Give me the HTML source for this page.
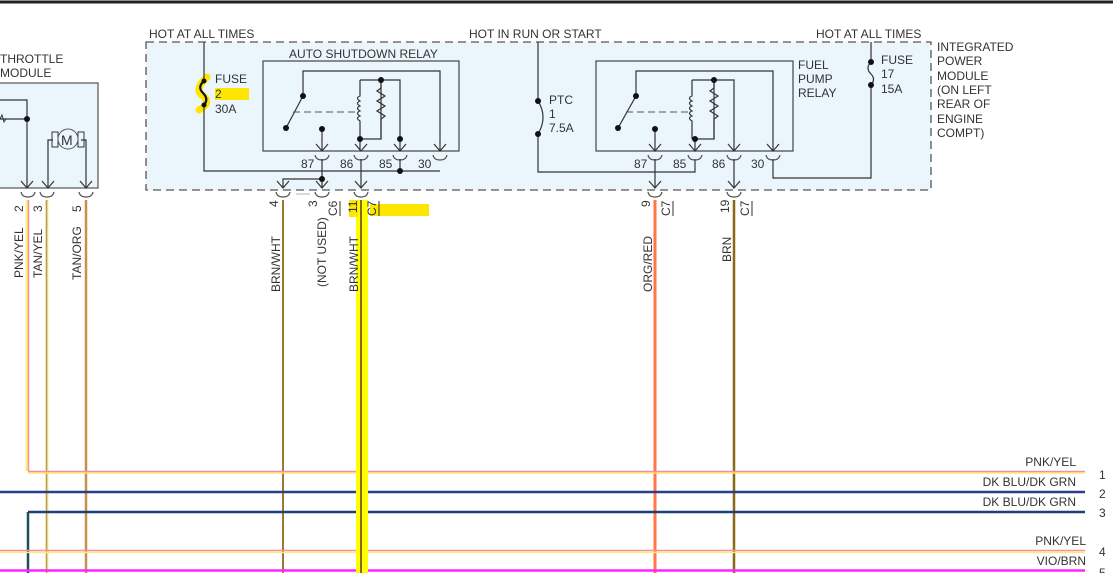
<!DOCTYPE html>
<html><head><meta charset="utf-8"><style>
html,body{margin:0;padding:0;background:#fff;}
svg{display:block;}
text{font-family:"Liberation Sans",Arial,sans-serif;font-size:12px;fill:#333;}
</style></head><body>
<svg width="1113" height="573" viewBox="0 0 1113 573" xmlns="http://www.w3.org/2000/svg">
<defs>
<g id="cup"><path d="M-7,-4 Q-6,1 0,1 Q6,1 7,-4" fill="none" stroke="#555" stroke-width="1.2"/></g>
<g id="arr"><path d="M-6,-7 L0,0 L6,-7" fill="none" stroke="#333" stroke-width="1.2"/></g>
</defs>
<line x1="0" y1="2" x2="1113" y2="2" stroke="#222" stroke-width="3"/>

<!-- throttle module -->
<rect x="-2" y="83" width="100" height="105" fill="#eaf6fc" stroke="#555" stroke-width="1.2"/>
<text x="0" y="63">THROTTLE</text><text x="0" y="77">MODULE</text>
<path d="M0,100 H27 V188 M0,119 H27 M48,188 V140 H53 M86,188 V140 H81" fill="none" stroke="#333" stroke-width="1.2"/>
<path d="M0,119 L2,115 L4,122 L6,119" fill="none" stroke="#333"/>
<circle cx="27" cy="119" r="3" fill="#111"/>
<rect x="52" y="132" width="6" height="15" fill="none" stroke="#333"/>
<rect x="78" y="132" width="6" height="15" fill="none" stroke="#333"/>
<circle cx="68" cy="139" r="10" fill="#eaf6fc" stroke="#555"/>
<text x="61" y="145" style="font-size:14px">M</text>
<use href="#arr" x="27" y="188"/><use href="#arr" x="48" y="188"/><use href="#arr" x="86" y="188"/>
<use href="#cup" x="28" y="196"/><use href="#cup" x="47" y="196"/><use href="#cup" x="86" y="196"/>
<text transform="translate(23,212) rotate(-90)">2</text>
<text transform="translate(42,212) rotate(-90)">3</text>
<text transform="translate(81,212) rotate(-90)">5</text>
<text transform="translate(23,278) rotate(-90)">PNK/YEL</text>
<text transform="translate(42,278) rotate(-90)">TAN/YEL</text>
<text transform="translate(81,280) rotate(-90)">TAN/ORG</text>

<!-- IPM -->
<rect x="146" y="42" width="785" height="148" fill="#eaf6fc" stroke="#555" stroke-width="1.3" stroke-dasharray="8,5"/>
<text x="149" y="38">HOT AT ALL TIMES</text>
<text x="469" y="38">HOT IN RUN OR START</text>
<text x="816" y="38">HOT AT ALL TIMES</text>
<text x="937" y="51">INTEGRATED</text><text x="937" y="65">POWER</text><text x="937" y="80">MODULE</text>
<text x="937" y="94">(ON LEFT</text><text x="937" y="108">REAR OF</text><text x="937" y="123">ENGINE</text><text x="937" y="137">COMPT)</text>

<!-- fuse 2 -->
<path d="M207,77 Q193,90 203,96 Q212,103 199,110" fill="none" stroke="#ffe600" stroke-width="7" stroke-linecap="round"/>
<rect x="215" y="88" width="34" height="12" fill="#ffe600"/>
<path d="M204,42 V81 M204,105 V171 H440" fill="none" stroke="#333" stroke-width="1.2"/>
<path d="M204,81 Q197,87 203,93 Q209,99 204,105" fill="none" stroke="#111" stroke-width="2.2"/>
<circle cx="204" cy="81" r="2.5" fill="#111"/><circle cx="204" cy="105" r="2.5" fill="#111"/>
<text x="215" y="83">FUSE</text><text x="215" y="98">2</text><text x="215" y="113">30A</text>

<!-- ASD relay -->
<rect x="263" y="61" width="196" height="90" fill="#eaf6fc" stroke="#444" stroke-width="1.2"/>
<text x="289" y="58">AUTO SHUTDOWN RELAY</text>
<path d="M303,96 V71 H440 V151 M303,96 L286,128 M360,80 H400 V151 M322,129 V151 M360,139 H381 V80" fill="none" stroke="#333" stroke-width="1.2"/>
<path d="M360,80 V96 q-5,2 0,5 q-5,2 0,5 q-5,2 0,5 q-5,2 0,5 q-5,2 0,5 V151" fill="none" stroke="#333" stroke-width="1.2"/>
<path d="M381,80 V88 l-4,3 8,5 -8,5 8,5 -8,5 8,5 -4,3 V139" fill="none" stroke="#333" stroke-width="1.2"/>
<line x1="293" y1="112" x2="358" y2="112" stroke="#555" stroke-dasharray="7,4"/>
<circle cx="303" cy="96" r="3" fill="#111"/><circle cx="286" cy="128" r="3" fill="#111"/>
<circle cx="322" cy="129" r="3" fill="#111"/><circle cx="381" cy="80" r="3" fill="#111"/>
<circle cx="360" cy="139" r="3" fill="#111"/><circle cx="400" cy="139" r="3" fill="#111"/>
<use href="#arr" x="322" y="151"/><use href="#arr" x="361" y="151"/><use href="#arr" x="400" y="151"/><use href="#arr" x="440" y="151"/>
<use href="#cup" x="322" y="159"/><use href="#cup" x="361" y="159"/><use href="#cup" x="400" y="159"/><use href="#cup" x="440" y="159"/>
<text x="301" y="168">87</text><text x="340" y="168">86</text><text x="379" y="168">85</text><text x="418" y="168">30</text>
<path d="M322,159 V188 M322,179 H283 V188 M361,159 V188 M400,159 V171" fill="none" stroke="#333" stroke-width="1.2"/>
<circle cx="322" cy="179" r="3" fill="#111"/><circle cx="400" cy="171" r="3" fill="#111"/>
<use href="#arr" x="283" y="188"/><use href="#arr" x="322" y="188"/><use href="#arr" x="361" y="188"/>

<!-- PTC / FPR -->
<path d="M538,42 V101 M538,134 V172 H695 V159" fill="none" stroke="#333" stroke-width="1.2"/>
<path d="M538,101 Q548,117 538,134" fill="none" stroke="#333" stroke-width="1.2"/>
<circle cx="538" cy="101" r="3" fill="#111"/><circle cx="538" cy="134" r="3" fill="#111"/>
<text x="549" y="104">PTC</text><text x="549" y="118">1</text><text x="549" y="132">7.5A</text>
<rect x="596" y="61" width="197" height="90" fill="#eaf6fc" stroke="#444" stroke-width="1.2"/>
<text x="798" y="69">FUEL</text><text x="798" y="83">PUMP</text><text x="798" y="97">RELAY</text>
<path d="M636,96 V71 H773 V151 M636,96 L618,128 M692,80 H734 V151 M655,129 V151 M692,139 H714 V80 M695,139 V151" fill="none" stroke="#333" stroke-width="1.2"/>
<path d="M692,80 V96 q-5,2 0,5 q-5,2 0,5 q-5,2 0,5 q-5,2 0,5 q-5,2 0,5 V139" fill="none" stroke="#333" stroke-width="1.2"/>
<path d="M714,80 V88 l-4,3 8,5 -8,5 8,5 -8,5 8,5 -4,3 V139" fill="none" stroke="#333" stroke-width="1.2"/>
<line x1="626" y1="112" x2="690" y2="112" stroke="#555" stroke-dasharray="7,4"/>
<circle cx="636" cy="96" r="3" fill="#111"/><circle cx="618" cy="128" r="3" fill="#111"/>
<circle cx="655" cy="129" r="3" fill="#111"/><circle cx="714" cy="80" r="3" fill="#111"/>
<circle cx="695" cy="139" r="3" fill="#111"/>
<use href="#arr" x="655" y="151"/><use href="#arr" x="695" y="151"/><use href="#arr" x="734" y="151"/><use href="#arr" x="773" y="151"/>
<use href="#cup" x="655" y="159"/><use href="#cup" x="695" y="159"/><use href="#cup" x="734" y="159"/><use href="#cup" x="773" y="159"/>
<text x="634" y="168">87</text><text x="673" y="168">85</text><text x="712" y="168">86</text><text x="751" y="168">30</text>
<path d="M655,159 V188 M734,159 V188 M773,159 V178 H871 V85 M871,62 V42" fill="none" stroke="#333" stroke-width="1.2"/>
<path d="M871,62 Q865,68 871,74 Q876,79 871,85" fill="none" stroke="#333" stroke-width="1.2"/>
<circle cx="871" cy="62" r="3" fill="#111"/><circle cx="871" cy="85" r="3" fill="#111"/>
<text x="881" y="64">FUSE</text><text x="881" y="78">17</text><text x="881" y="93">15A</text>
<use href="#arr" x="655" y="188"/><use href="#arr" x="734" y="188"/>

<!-- bottom connectors -->
<use href="#cup" x="283" y="196"/><use href="#cup" x="322" y="196"/><use href="#cup" x="361" y="196"/>
<use href="#cup" x="655" y="196"/><use href="#cup" x="734" y="196"/>
<line x1="296" y1="194" x2="310" y2="194" stroke="#ccc" stroke-width="1.5"/>
<rect x="356" y="200" width="12" height="373" fill="#ffff00"/>
<rect x="349" y="200" width="9" height="17" fill="#ffe600"/>
<rect x="370" y="204" width="59" height="12" fill="#ffe600"/>
<text transform="translate(278,207) rotate(-90)">4</text>
<text transform="translate(317,207) rotate(-90)">3</text>
<text transform="translate(337,216) rotate(-90)">C6</text><line x1="340" y1="201" x2="340" y2="216" stroke="#333"/>
<text transform="translate(357,213) rotate(-90)">11</text>
<text transform="translate(376,216) rotate(-90)">C7</text><line x1="379" y1="201" x2="379" y2="216" stroke="#333"/>
<text transform="translate(650,207) rotate(-90)">9</text>
<text transform="translate(670,216) rotate(-90)">C7</text><line x1="673" y1="201" x2="673" y2="216" stroke="#333"/>
<text transform="translate(729,213) rotate(-90)">19</text>
<text transform="translate(749,216) rotate(-90)">C7</text><line x1="752" y1="201" x2="752" y2="216" stroke="#333"/>
<text transform="translate(280,292) rotate(-90)">BRN/WHT</text>
<text transform="translate(326,287) rotate(-90)">(NOT USED)</text>
<text transform="translate(358,292) rotate(-90)">BRN/WHT</text>
<text transform="translate(652,292) rotate(-90)">ORG/RED</text>
<text transform="translate(731,262) rotate(-90)">BRN</text>

<!-- vertical wires -->
<line x1="27" y1="200" x2="27" y2="471" stroke="#f6f07a" stroke-width="3"/>
<line x1="28.5" y1="200" x2="28.5" y2="471" stroke="#ff8a9a" stroke-width="1.5"/>
<line x1="47" y1="200" x2="47" y2="573" stroke="#f6f07a" stroke-width="3"/>
<line x1="46.5" y1="200" x2="46.5" y2="573" stroke="#b89a6a" stroke-width="1.5"/>
<line x1="86" y1="200" x2="86" y2="573" stroke="#c8904a" stroke-width="2.5"/>
<line x1="283" y1="200" x2="283" y2="573" stroke="#9a7a30" stroke-width="2"/>
<line x1="361" y1="200" x2="361" y2="573" stroke="#8b6914" stroke-width="2"/>
<line x1="655" y1="200" x2="655" y2="573" stroke="#ff7744" stroke-width="3"/>
<line x1="734" y1="200" x2="734" y2="573" stroke="#8b6914" stroke-width="2.5"/>

<!-- horizontal wires -->
<g stroke-width="1.5">
<line x1="28" y1="473" x2="1085" y2="473" stroke="#f6f07a"/>
<line x1="28" y1="471.5" x2="1085" y2="471.5" stroke="#ff8a9a"/>
<line x1="0" y1="492" x2="1085" y2="492" stroke="#2a3f8a" stroke-width="2.5"/>
<line x1="28" y1="512" x2="1085" y2="512" stroke="#1e3f7a" stroke-width="2.5"/>
<line x1="28" y1="512" x2="28" y2="573" stroke="#1e4f5a" stroke-width="2.5"/>
<line x1="0" y1="552.5" x2="1085" y2="552.5" stroke="#f6f07a"/>
<line x1="0" y1="550.5" x2="1085" y2="550.5" stroke="#ff8a9a"/>
<line x1="0" y1="570.5" x2="1085" y2="570.5" stroke="#ff22ff" stroke-width="2.5"/>
</g>
<rect x="356" y="460" width="12" height="113" fill="#ffff00"/>
<line x1="361" y1="460" x2="361" y2="573" stroke="#8b6914" stroke-width="2"/>
<g text-anchor="end">
<text x="1076" y="466">PNK/YEL</text>
<text x="1076" y="486">DK BLU/DK GRN</text>
<text x="1076" y="506">DK BLU/DK GRN</text>
<text x="1086" y="545">PNK/YEL</text>
<text x="1086" y="565">VIO/BRN</text>
</g>
<text x="1099" y="479">1</text><text x="1099" y="498">2</text><text x="1099" y="517">3</text>
<text x="1099" y="556">4</text><text x="1099" y="577">5</text>
</svg>
</body></html>
